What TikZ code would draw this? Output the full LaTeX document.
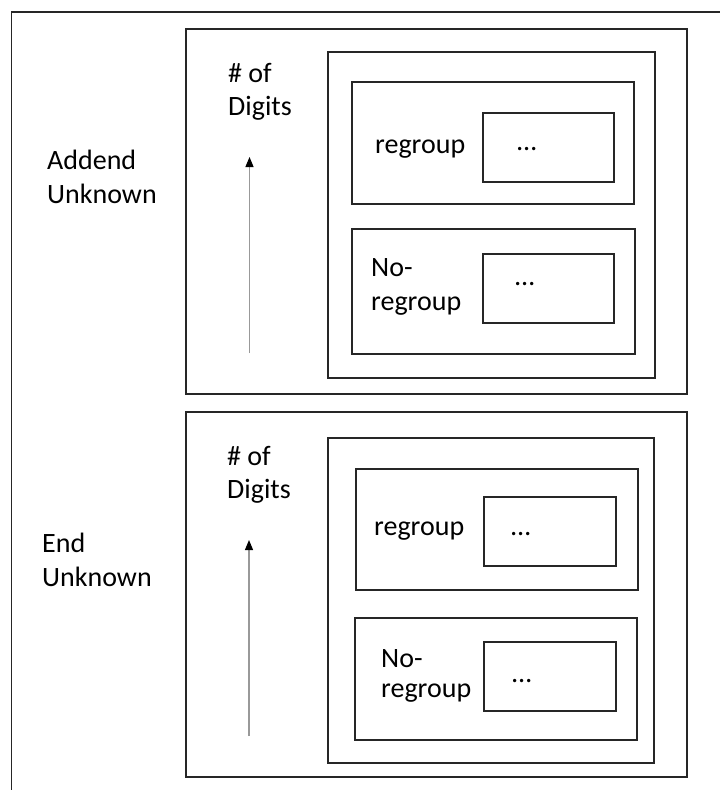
\documentclass[tikz,border=0pt]{standalone}
\usepackage{fontspec}
\setmainfont{Carlito}
\usetikzlibrary{fit,arrows.meta}

\begin{document}
\begin{tikzpicture}[x=1pt,y=-1pt,
  panel/.style={draw=black!85,line width=1.4pt,inner sep=0pt},
  lbl/.style={inner sep=0pt,anchor=base west,align=left,
    font=\fontsize{28}{34}\selectfont},
  dots/.style={inner sep=0pt,anchor=base west,font=\fontsize{28}{34}\selectfont},
  growth/.style={draw=black!40,line width=1.1pt,
    -{Triangle[width=8pt,length=10pt,black]}}]
  \useasboundingbox (0,0) rectangle (720,790);

  % frame edges
  \coordinate (fTL) at (11.5,12);
  \coordinate (fTR) at (720,12);
  \coordinate (fBL) at (11.5,790);
  \draw[black!85,line width=1.4pt] (fBL) -- (fTL) -- (fTR);

  % ---------- Addend Unknown ----------
  \node[panel,fit={(186,29) (687,394)}] (grpA) {};
  \node[panel,fit={(328,52) (655,378)}] (contA) {};
  \node[panel,fit={(352,82) (634,204)}] (regA) {};
  \node[panel,fit={(483,113) (614,182)}] (regAin) {};
  \node[panel,fit={(352,229) (635,354)}] (noA) {};
  \node[panel,fit={(483,254) (614,323)}] (noAin) {};

  % multi-line labels are placed by the baseline of their last line
  \node[lbl] (typeA) at (47,203) {Addend\\Unknown};
  \node[lbl,font=\fontsize{28}{32.5}\selectfont] (digA) at (228,115) {\# of\\Digits};
  \node[lbl] (regAt) at (375,153) {regroup};
  \node[dots] (regAd) at (517,150) {…};
  \node[lbl] (noAt) at (371,310) {No-\\regroup};
  \node[dots] (noAd) at (515,285) {…};

  \coordinate (aLow) at (249.5,353);
  \coordinate (aHigh) at (249.5,157);
  \draw[growth] (aLow) -- (aHigh);

  % ---------- End Unknown ----------
  \node[panel,fit={(186,412) (687,777)}] (grpB) {};
  \node[panel,fit={(328,438) (654,763)}] (contB) {};
  \node[panel,fit={(356,469) (638,590)}] (regB) {};
  \node[panel,fit={(484,497) (616,566)}] (regBin) {};
  \node[panel,fit={(355,618) (637,740)}] (noB) {};
  \node[panel,fit={(484,642) (616,711)}] (noBin) {};

  \node[lbl] (typeB) at (42,586) {End\\Unknown};
  \node[lbl,font=\fontsize{28}{32.5}\selectfont] (digB) at (227,498) {\# of\\Digits};
  \node[lbl] (regBt) at (374,535) {regroup};
  \node[dots] (regBd) at (511,535) {…};
  \node[lbl,font=\fontsize{28}{30}\selectfont] (noBt) at (381,697) {No-\\regroup};
  \node[dots] (noBd) at (512,682) {…};

  \coordinate (bLow) at (249,736);
  \coordinate (bHigh) at (249,540);
  \draw[growth] (bLow) -- (bHigh);
\end{tikzpicture}
\end{document}
